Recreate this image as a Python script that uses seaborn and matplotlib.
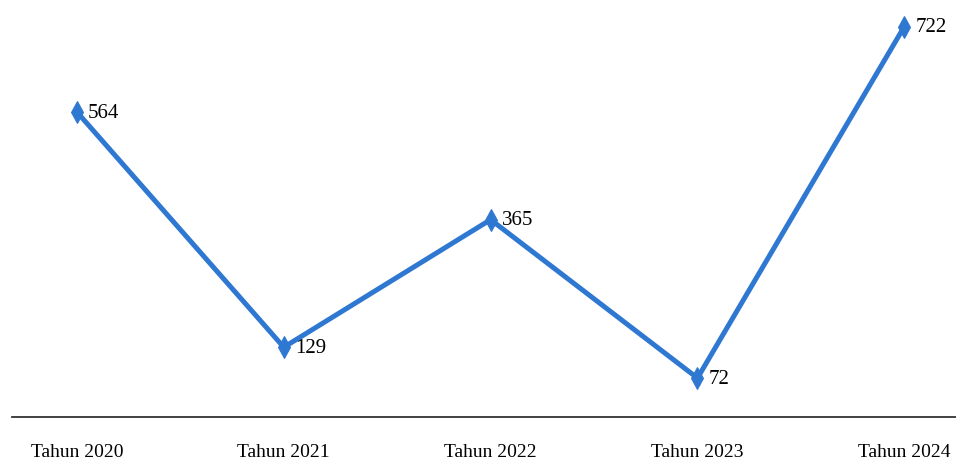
import matplotlib
matplotlib.use("Agg")
import matplotlib.pyplot as plt
import seaborn as sns
import pandas as pd

categories = ["Tahun 2020", "Tahun 2021", "Tahun 2022", "Tahun 2023", "Tahun 2024"]
values = [564, 129, 365, 72, 722]

df = pd.DataFrame({"tahun": categories, "jumlah": values})

sns.set_style("white")
plt.rcParams["font.family"] = ["Liberation Serif", "DejaVu Serif"]

fig = plt.figure(figsize=(9.56, 4.64), dpi=100)
ax = fig.add_axes([12 / 956, 46 / 464, 944 / 956, 418 / 464])

color = "#2F78D2"
sns.lineplot(data=df, x="tahun", y="jumlah", ax=ax, color=color, linewidth=3.6,
             marker="d", markersize=11, markeredgecolor=color, sort=False)

for i, v in enumerate(values):
    ax.annotate(str(v), (i, v), xytext=(8, 0), textcoords="offset points",
                ha="left", va="center", fontsize=15, color="black",
                fontstretch="condensed")

ax.set_xlim(-0.314, 4.25)
ax.set_ylim(0, 773)
ax.set_xlabel("")
ax.set_ylabel("")
ax.set_yticks([])
for s in ["top", "right", "left"]:
    ax.spines[s].set_visible(False)
ax.spines["bottom"].set_color("#333333")
ax.spines["bottom"].set_linewidth(1.3)
ax.tick_params(axis="x", length=0, pad=19, labelsize=14, labelcolor="black")
for t in ax.get_xticklabels():
    t.set_fontstretch("condensed")

fig.savefig("out.png", dpi=100)
